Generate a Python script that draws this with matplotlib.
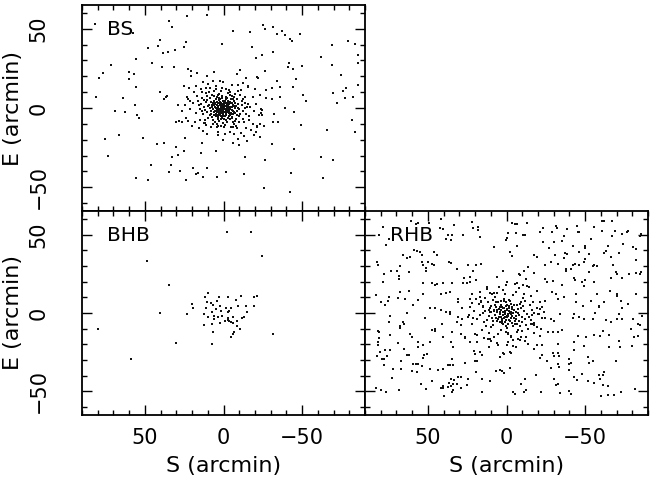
import numpy as np
import matplotlib
matplotlib.use('Agg')
import matplotlib.pyplot as plt
from matplotlib.ticker import MultipleLocator

# star positions in arcmin (S, E) for the three populations
bs_outer = [
    (81.5, 53.2), (34.7, 54.8), (32.6, 51.0), (23.5, 58.0), (10.3, 58.6), (57.5, 47.2), (40.2, 42.6),
    (41.5, 39.4), (48.2, 37.7), (38.7, 34.8), (35.6, 35.2), (31.1, 36.9), (23.9, 41.5), (25.0, 38.4),
    (1.1, 40.5), (55.4, 31.0), (45.7, 28.2), (71.4, 27.2), (38.9, 25.7), (31.3, 25.9), (22.3, 24.7),
    (20.8, 23.2), (17.0, 21.9), (10.3, 20.4), (6.0, 22.5), (20.4, 20.4), (60.3, 23.0), (57.1, 21.5),
    (76.5, 21.9), (79.4, 19.0), (60.3, 18.1), (2.4, 17.3), (55.8, 13.5), (25.4, 13.7), (40.2, 10.3),
    (63.8, 6.3), (81.1, 7.2), (36.6, 6.7), (35.9, 7.5), (37.7, 5.7), (56.6, 2.1), (29.2, 2.1),
    (21.2, 4.6), (22.9, 6.7), (14.4, 12.0), (13.4, 9.9), (11.3, 12.7),
    (-25.2, 52.3), (-26.1, 49.7), (-31.5, 51.0), (-37.2, 48.9), (-38.9, 46.0), (-34.1, 46.4),
    (-48.4, 47.0), (-16.6, 47.7), (-5.8, 48.7), (-42.5, 43.4), (-43.8, 42.4), (-18.2, 38.4),
    (-31.5, 35.6), (-68.9, 39.9), (-79.4, 42.4), (-83.7, 40.3), (-24.6, 33.3), (-20.4, 31.6),
    (-85.3, 33.7), (-85.8, 28.7), (-61.9, 32.0), (-41.5, 28.7), (-69.1, 27.0), (-40.8, 25.7),
    (-44.0, 24.9), (-49.9, 26.8), (-10.4, 24.2), (-26.7, 23.6), (-8.7, 21.3), (-21.0, 19.4),
    (-22.0, 18.8), (-14.2, 19.0), (-34.1, 17.3), (-46.3, 18.5), (-74.8, 20.6), (-85.6, 14.3),
    (-78.0, 12.7), (-76.3, 10.9), (-44.2, 13.5), (-36.2, 13.0), (-30.9, 12.7), (-27.3, 11.4),
    (-15.7, 13.7), (-50.5, 8.4), (-69.9, 9.2), (-82.6, 7.2), (-77.5, 6.5), (-27.0, 6.2),
    (-30.9, 5.8), (-36.2, 6.7), (-52.7, 4.6), (-72.5, 2.9), (-23.9, -0.6), (-39.4, 0.0),
    (68.7, -1.7), (62.5, -2.3), (54.9, -4.2), (53.9, -6.6), (45.7, -1.7), (26.1, -1.7), (30.3, -8.7),
    (28.2, -8.1), (26.1, -8.7), (22.5, -8.0), (11.9, -9.7), (3.9, -12.3), (3.5, -16.9), (75.6, -19.4),
    (66.6, -16.9), (50.9, -19.0), (42.3, -22.8), (38.1, -21.8), (24.6, -19.2), (13.6, -22.2),
    (0.1, -20.3), (29.9, -24.3), (25.0, -27.0), (28.8, -29.6), (14.4, -28.5), (4.9, -27.2),
    (33.0, -31.2), (73.5, -30.6), (33.4, -35.9), (45.9, -35.7), (34.5, -40.3), (27.5, -39.7),
    (19.3, -38.0), (10.6, -37.6), (17.2, -41.8), (16.2, -41.3), (13.2, -43.7), (3.9, -43.5),
    (23.7, -45.2), (55.6, -44.1), (48.2, -45.2),
    (-44.6, -2.3), (-24.2, -1.1), (-24.6, -4.2), (-32.4, -3.8), (-31.3, -8.7), (-34.7, -8.7),
    (-49.2, -10.8), (-82.0, -7.6), (-65.7, -13.7), (-83.7, -15.4), (-21.4, -11.1), (-25.6, -11.5),
    (-23.5, -10.1), (-20.4, -15.4), (-19.3, -16.9), (-23.1, -18.2), (-15.1, -21.1), (-9.8, -23.4),
    (-6.0, -22.4), (-9.2, -19.6), (-31.1, -22.8), (-45.0, -25.9), (-13.4, -31.2), (-26.1, -32.7),
    (-61.9, -31.2), (-69.9, -32.9), (-1.4, -40.1), (-13.0, -41.4), (-42.7, -40.8), (-63.2, -44.3),
    (-25.8, -50.3), (-42.1, -52.8),
]

bs_core = [
    (0.5, -0.8), (1.8, 0.4), (-1.2, 1.1), (-2.6, -0.3), (2.9, -1.7), (-0.4, 2.3), (3.7, 1.2), (-3.5, -2.1),
    (0.9, -3.0), (-1.7, -3.6), (4.6, -0.2), (-4.3, 0.8), (1.4, 3.4), (-2.2, 3.0), (5.2, 2.6), (-5.1, -1.4),
    (2.3, -4.2), (-0.8, -5.0), (6.1, -2.8), (-6.0, 2.2), (0.2, 4.6), (3.1, 4.9), (-3.8, 4.1), (4.8, -3.9),
    (-4.9, -3.8), (7.2, 0.6), (-7.0, -0.2), (1.1, -6.1), (-2.7, -6.3), (5.9, 4.4), (-6.4, 4.7), (3.6, -5.8),
    (-5.6, -5.5), (8.1, -1.6), (-8.2, 1.3), (0.0, 1.0), (1.0, -1.9), (-1.0, -0.6), (2.2, 1.6), (-2.0, 2.0),
    (2.7, -0.9), (-3.0, -1.2), (0.6, 2.8), (-0.9, -2.4), (3.3, 0.1), (-3.9, 0.3), (1.6, -2.9), (-1.5, -4.3),
    (4.1, 2.2), (-4.5, 2.9), (0.3, -3.9), (-0.2, 3.7), (5.4, 0.9), (-5.7, 0.6), (2.0, 5.6), (-1.3, 5.4),
    (3.9, -2.6), (-3.2, -3.0), (6.6, -0.7), (-6.6, -2.6), (1.3, 0.0), (-0.6, 0.2), (0.1, -1.3), (-1.8, -1.7),
    (2.5, 2.7), (-2.9, 1.4), (4.3, -1.1), (-4.0, -0.8), (1.9, -5.1), (-3.6, -5.0), (4.4, 3.6), (-4.1, 3.7),
    (7.5, 2.0), (-7.4, 2.9), (5.0, -5.1), (-5.3, -6.2), (0.8, 6.2), (-2.4, 6.4), (6.8, 3.3), (-6.1, -4.1),
    (3.0, -3.4), (-2.3, -2.6), (1.7, 1.2), (-1.1, 3.0), (0.4, -2.3), (-0.3, -6.8), (2.8, 6.6), (-4.6, 5.8),
    (8.6, 0.2), (-8.8, -1.9), (1.5, -7.2), (-1.9, -7.5), (5.6, -2.2), (-5.9, -1.9), (3.5, 3.0), (-3.3, 2.6),
    (0.7, 0.9), (-0.5, 1.6), (1.2, -0.4), (-1.4, -0.9), (2.4, -2.2), (-2.5, 0.5), (3.8, -4.5), (-4.4, -2.9),
    (6.3, 1.6), (-6.9, 1.0), (0.2, -4.8), (-0.7, 4.4), (4.9, 5.6), (-5.2, 3.4), (7.8, -3.6), (-7.6, -3.2),
    (2.1, 3.9), (-2.8, 4.6), (3.4, -6.7), (-3.9, -7.0), (6.0, -4.6), (-6.3, 5.7), (0.9, 7.4), (-1.6, 7.1),
    (9.2, 1.8), (-9.0, 2.6), (4.0, 6.9), (-4.2, -4.6), (5.3, 3.1), (-5.0, -3.1), (1.9, -1.1), (-2.1, -1.4),
    (0.0, -0.1), (0.8, 1.8),
    (10.3, -2.4), (-10.1, -0.8), (11.2, 3.5), (-11.5, 4.2), (9.6, -6.1), (-9.8, -5.3), (12.4, 0.9),
    (-12.7, -1.6), (7.1, 8.3), (-7.4, 8.6), (2.6, 9.1), (-3.1, 9.4), (5.2, -8.7), (-5.8, -8.9), (0.4, -9.6),
    (13.1, -4.1), (-13.4, 3.1), (8.4, 6.2), (-8.9, 5.9), (10.6, 7.7), (-10.8, 8.1), (14.0, 2.8),
    (-14.3, -3.8), (6.9, -9.9), (-6.6, -10.3), (1.8, 10.8), (-1.2, -10.7), (11.9, -7.4), (-12.1, -6.8),
    (15.2, -0.6), (-15.1, 0.4), (9.0, 10.2), (-9.3, 10.6), (3.7, -11.2), (-3.6, 11.5), (13.8, 6.4),
    (-13.6, 7.0), (4.6, 11.9), (-4.8, -11.8), (12.6, -9.6), (-12.9, -9.1), (8.0, -11.7), (-8.1, -11.4),
    (16.0, 4.5), (-16.2, -5.2), (0.9, 12.6), (-0.6, -12.3), (10.9, -10.8), (-11.2, 11.6), (14.7, -7.8),
    (7.7, 3.9), (-7.9, -6.8), (9.9, 1.2), (-9.5, 0.1), (6.5, -7.3), (-6.8, 6.9), (11.6, -1.3), (-11.9, 1.9),
    (3.3, 8.0), (-4.1, 8.2), (2.9, -8.4), (-2.5, -9.0), (8.8, -4.7), (-8.6, -4.2), (12.2, 5.0), (-12.3, 5.6),
    (5.8, 7.6), (-5.5, 7.8), (10.2, 4.8), (-10.4, -3.7), (7.3, -5.4), (-7.1, -8.0), (13.5, -2.0),
    (-13.8, -0.3), (4.2, -10.1), (-4.4, 10.0), (15.6, 1.6), (-15.8, 2.3), (6.2, 10.9), (-6.0, -11.9),
    (17.3, -2.9), (-17.0, 0.9), (11.0, 9.4), (-10.0, -9.0), (1.4, -11.6), (-1.9, 11.9), (8.5, 12.6),
    (-8.4, -12.8), (16.8, 7.8), (-16.5, -7.4),
    (19.2, 3.1), (-19.6, -1.8), (18.4, -8.6), (-18.8, 6.9), (21.0, -0.4), (-20.7, 2.6), (9.7, 15.2),
    (-9.1, 14.6), (3.2, -15.4), (-4.0, -14.9), (14.6, 11.8), (-14.2, -12.6), (22.3, 5.9), (-22.6, -4.7),
    (20.1, -11.5), (-19.9, 12.1), (12.8, -14.7), (-12.4, 15.9), (0.6, 16.4), (-0.8, -16.7), (17.5, 14.0),
    (-17.2, -14.1), (23.8, -6.2), (-23.5, 8.4), (6.7, 16.9), (-6.9, -16.2), (19.0, 9.9), (-18.6, -10.3),
    (24.6, 1.9), (-24.1, -2.9), (15.9, -12.9), (-15.3, 13.2), (10.8, -16.6), (-11.1, -15.8), (21.7, 12.7),
    (-21.2, -12.0), (5.0, 13.8), (-5.6, 14.2), (13.2, 16.5), (-13.0, -17.4),
]

bhb = [
    (-2.2, 51.5), (-17.4, 51.5), (-24.6, 36.6), (48.6, 33.0), (34.5, 18.0), (10.0, 12.8), (11.7, 10.3),
    (2.8, 10.1), (-2.6, 10.1), (-11.3, 11.1), (-8.1, 8.6), (-19.3, 10.1), (-21.2, 11.1), (10.6, 7.1),
    (7.9, 6.3), (4.3, 7.4), (19.9, 5.7), (19.1, 3.5), (6.5, 4.8), (2.4, 4.4), (10.9, 3.3), (4.9, 2.3),
    (-1.8, 3.5), (-4.6, 3.5), (-9.4, 4.4), (-14.4, 4.4), (-19.1, 4.2), (1.6, 1.3), (-3.7, 1.3),
    (7.1, 0.6), (-2.6, 0.4), (-15.1, 0.8), (23.1, -0.9), (12.5, -0.8), (10.0, -2.3), (40.2, -0.3),
    (6.0, -1.9), (3.5, -2.3), (1.0, -1.6), (-3.0, -3.2), (-6.0, -2.7), (-13.2, -2.7), (-11.9, -3.4),
    (6.0, -4.1), (-0.8, -5.3), (-2.6, -4.6), (-3.4, -4.8), (-5.0, -5.9), (-5.9, -6.3), (2.4, -6.3),
    (-8.5, -4.8), (7.5, -7.2), (12.3, -7.8), (-8.3, -8.2), (-10.3, -10.1), (6.8, -12.2), (-6.5, -12.2),
    (-5.9, -13.5), (-5.0, -15.1), (-31.5, -13.5), (80.0, -10.1), (30.3, -19.2), (7.5, -19.8),
    (58.7, -29.6),
]

rhb_outer = [
    (60.8, 58.9), (57.5, 56.5), (56.0, 57.2), (49.2, 57.2), (41.6, 59.7), (33.4, 56.1), (22.2, 58.0),
    (78.8, 55.1), (42.3, 54.2), (40.2, 53.8), (21.2, 54.4), (18.0, 54.7), (18.0, 53.0), (80.9, 49.6),
    (75.0, 47.1), (76.5, 43.5), (37.0, 49.8), (34.9, 49.6), (27.9, 49.6), (17.0, 48.6), (38.5, 47.1),
    (35.5, 46.7), (8.1, 42.3), (-0.3, 48.1), (65.9, 37.0), (61.3, 35.5), (63.0, 34.9), (58.7, 40.4),
    (57.1, 39.3), (54.9, 38.7), (53.9, 37.2), (46.1, 39.1), (44.4, 37.0), (53.9, 32.4), (52.8, 30.3),
    (51.1, 28.6), (51.1, 26.7), (49.7, 32.8), (47.5, 31.3), (46.1, 30.3), (36.4, 32.4), (35.5, 32.0),
    (82.4, 32.8), (81.9, 30.3), (67.6, 29.9), (73.3, 26.5), (69.7, 26.5), (77.7, 24.8), (68.6, 23.5),
    (68.6, 21.9), (62.3, 26.1), (24.3, 30.9), (19.1, 30.3), (16.5, 31.3), (31.7, 28.2), (21.2, 26.5),
    (22.9, 22.9), (27.9, 19.3), (25.0, 19.3), (23.3, 19.8), (27.1, 22.3), (19.1, 20.8), (34.9, 19.3),
    (6.0, 22.9), (2.2, 26.5), (-0.3, 19.8), (78.8, 19.8), (52.8, 19.1), (47.5, 19.1), (45.4, 17.7),
    (44.0, 18.7), (40.2, 19.1), (12.3, 16.4), (10.6, 12.8), (7.9, 13.0), (22.2, 12.4), (41.9, 12.4),
    (38.5, 12.8), (36.0, 13.5), (53.2, 12.2), (61.7, 13.9), (68.0, 13.5), (82.8, 11.4), (75.0, 10.3),
    (75.4, 7.8), (79.8, 7.2), (69.0, 9.7), (64.4, 8.8), (56.0, 8.2), (77.5, 5.1), (59.2, 5.1),
    (30.7, 8.8), (31.1, 6.7), (22.9, 9.2), (22.2, 6.1), (28.6, 3.4), (48.6, 3.4), (45.4, 3.0),
    (41.6, 1.9), (38.5, 0.8), (36.0, 0.4), (63.4, -0.2), (73.9, -1.7), (17.0, 10.3), (16.5, 7.2),
    (14.9, 4.0), (11.1, 1.9), (9.6, 0.8),
    (-3.7, 57.6), (-5.2, 57.0), (-6.7, 56.5), (-13.0, 57.2), (-23.5, 54.4), (-31.6, 55.5), (-32.2, 54.4),
    (-38.3, 53.8), (-44.6, 55.5), (-55.4, 55.1), (-60.7, 58.6), (-62.1, 58.6), (-67.4, 58.6), (-1.0, 50.9),
    (0.5, 46.7), (-5.8, 50.9), (-10.5, 49.6), (-11.5, 49.6), (-21.4, 51.7), (-29.0, 51.7), (-36.8, 48.8),
    (-45.3, 51.7), (-46.3, 51.3), (-53.7, 47.1), (-60.7, 52.3), (-69.1, 52.3), (-67.4, 48.8),
    (-73.7, 50.2), (-76.9, 51.7), (-77.5, 52.3), (-85.4, 50.2), (-84.7, 48.8), (-6.7, 42.9),
    (-23.5, 45.4), (-29.9, 45.4), (-27.3, 41.2), (-35.4, 46.0), (-42.5, 42.9), (-50.1, 42.9),
    (-50.1, 41.2), (-64.3, 42.5), (-74.2, 43.9), (-80.5, 41.8), (-82.6, 40.8), (-2.0, 38.7), (-3.7, 36.6),
    (-17.8, 37.0), (-19.3, 35.5), (-31.1, 37.0), (-37.5, 38.3), (-38.3, 37.6), (-45.9, 39.1),
    (-52.2, 37.6), (-62.1, 38.3), (-63.6, 39.7), (-71.6, 38.3), (-66.4, 35.5), (-50.1, 34.5),
    (-49.5, 32.8), (-36.8, 34.9), (-28.6, 32.4), (-32.6, 31.3), (-24.8, 30.3), (-82.2, 34.0),
    (-42.5, 30.7), (-43.8, 31.3), (-45.9, 30.7), (-54.8, 29.9), (-55.8, 30.3), (-57.3, 29.9),
    (-67.8, 30.7), (-13.6, 29.2), (-37.9, 28.2), (-37.9, 26.5), (-41.0, 28.2), (-10.9, 26.5), (-8.0, 25.0),
    (-8.8, 24.4), (-17.8, 25.7), (-52.2, 26.1), (-69.5, 26.1), (-70.6, 25.0), (-78.0, 25.0), (-82.2, 25.7),
    (-85.4, 26.1), (-84.7, 25.0), (-43.2, 22.3), (-43.8, 20.8), (-24.8, 21.9), (-12.6, 21.4),
    (-55.8, 19.8), (-66.4, 22.3), (-73.3, 22.3), (-25.6, 19.8), (-29.4, 20.2), (-35.4, 18.1), (-48.0, 19.8),
    (-50.1, 20.8), (-49.5, 17.2), (-5.2, 18.7), (-13.0, 17.2), (-19.3, 13.9), (-29.0, 13.1), (-31.6, 11.8),
    (-32.6, 8.8), (-36.8, 10.3), (-44.2, 12.4), (-57.3, 12.4), (-65.7, 13.9), (-70.6, 12.4), (-70.2, 10.9),
    (-82.2, 11.8), (-24.2, 7.6), (-16.8, 7.1), (-44.2, 6.7), (-53.7, 7.6), (-62.1, 6.7), (-72.7, 7.6),
    (-48.4, 4.6), (-58.6, 4.0), (-59.0, 4.6), (-22.7, 4.0), (-21.4, 2.5), (-73.7, 3.0), (-77.5, 5.5),
    (-34.1, -0.8), (-43.2, -0.8), (-56.5, -0.2), (-71.6, -0.8), (-16.4, -1.3), (-17.8, -0.2),
    (51.8, -3.4), (36.0, -0.4), (30.7, -2.7), (28.6, -4.0), (24.3, -2.3), (21.2, -3.0), (31.7, -5.7),
    (29.2, -7.8), (41.2, -7.2), (75.0, -5.7), (65.9, -5.7), (65.1, -7.2), (67.6, -8.2), (68.0, -9.7),
    (81.9, -11.4), (81.3, -12.4), (73.9, -14.1), (61.3, -13.5), (60.2, -15.0), (47.5, -11.0),
    (45.4, -10.3), (45.4, -11.4), (34.9, -12.0), (40.2, -15.1), (35.5, -18.7), (29.2, -13.5),
    (26.5, -15.0), (26.5, -16.2), (20.1, -13.5), (18.7, -13.9), (23.3, -18.7), (18.7, -18.7),
    (11.7, -16.6), (10.6, -16.6), (5.4, -20.4), (81.3, -16.2), (81.9, -18.3), (81.5, -20.4), (69.3, -19.1),
    (56.0, -18.3), (53.2, -20.4), (48.6, -18.7), (65.5, -22.9), (56.0, -21.9), (33.8, -21.9),
    (11.1, -21.9), (-0.3, -20.4), (77.1, -23.3), (74.3, -23.5), (80.7, -24.6), (82.4, -27.1),
    (76.0, -27.1), (63.4, -26.7), (61.9, -26.7), (52.4, -26.7), (50.3, -26.1), (52.8, -28.8),
    (20.8, -24.0), (20.1, -26.1), (17.0, -24.6), (15.9, -26.7), (19.9, -30.3), (18.7, -30.3),
    (4.3, -28.2), (2.2, -25.4), (79.2, -29.2), (77.7, -29.2), (34.9, -29.2), (26.5, -31.7), (78.1, -33.4),
    (67.0, -30.3), (59.2, -32.4), (57.7, -32.4), (56.6, -32.4), (53.9, -33.8), (37.0, -33.0),
    (35.9, -33.4), (34.3, -33.4), (72.4, -36.0), (67.2, -36.0), (60.2, -37.0), (57.1, -37.6),
    (48.6, -35.5), (43.3, -36.6), (40.2, -36.0), (19.1, -37.6), (6.8, -37.2), (3.9, -36.6), (2.6, -37.2),
    (72.9, -41.4), (47.5, -43.5), (30.7, -40.8), (29.2, -40.8), (35.5, -42.3), (33.4, -42.9),
    (24.3, -42.3), (15.3, -41.8), (10.6, -43.5), (36.4, -44.4), (34.3, -45.0), (31.3, -45.0),
    (54.5, -45.0), (25.4, -46.0), (40.2, -46.5), (41.9, -48.1), (40.2, -48.1), (37.0, -47.1),
    (35.5, -46.5), (29.2, -47.7), (33.8, -49.2), (34.9, -50.2), (51.1, -48.6), (82.8, -47.7),
    (79.8, -48.8), (76.9, -50.2), (68.6, -49.2), (15.9, -50.2), (39.7, -53.0),
    (-20.0, -0.9), (-24.8, -3.0), (-28.4, -4.0), (-30.5, -5.1), (-42.1, -3.0), (-45.9, -2.3),
    (-49.5, -4.0), (-55.2, -3.6), (-63.6, -4.4), (-66.4, -5.7), (-70.0, -3.6), (-73.3, -3.6),
    (-80.7, -4.0), (-83.9, -7.2), (-84.7, -7.8), (-86.0, -1.9), (-17.8, -7.8), (-15.7, -7.2),
    (-22.1, -9.9), (-26.3, -12.4), (-29.4, -12.0), (-32.6, -12.4), (-35.4, -10.7), (-21.4, -14.5),
    (-45.3, -14.5), (-50.5, -15.6), (-55.8, -14.1), (-59.6, -14.9), (-61.5, -11.4), (-64.9, -14.1),
    (-79.0, -10.3), (-81.1, -15.6), (-83.9, -14.5), (-71.6, -17.7), (-42.7, -18.7), (-32.6, -19.8),
    (-19.3, -20.4), (-22.7, -20.4), (-13.6, -19.8), (-17.8, -22.9), (-49.5, -21.2), (-65.3, -21.9),
    (-72.3, -21.9), (-80.1, -20.8), (-43.2, -23.3), (-29.4, -25.4), (-32.6, -25.4), (-30.5, -27.1),
    (-33.7, -27.7), (-22.7, -26.7), (-21.4, -28.8), (-25.7, -30.3), (-40.0, -29.2), (-51.6, -28.2),
    (-54.8, -30.3), (-52.2, -31.7), (-69.5, -30.9), (-41.1, -31.7), (-39.6, -32.8), (-32.6, -32.4),
    (-28.4, -35.1), (-33.2, -34.5), (-40.0, -36.6), (-47.8, -38.7), (-62.1, -37.6), (-61.1, -39.7),
    (-58.6, -39.7), (-59.4, -42.3), (-18.9, -39.7), (-42.7, -40.8), (-44.6, -42.9), (-51.6, -43.5),
    (-55.8, -44.4), (-30.5, -42.3), (-32.6, -45.0), (-31.6, -45.6), (-61.1, -46.0), (-64.3, -46.5),
    (-72.7, -50.2), (-81.8, -48.6), (-11.5, -42.3), (-9.4, -45.0), (-12.1, -49.2), (-10.9, -50.2),
    (-4.1, -50.2), (-5.2, -51.3), (-22.1, -50.2), (-34.1, -50.7), (-40.0, -49.8), (-41.1, -51.7),
    (-60.0, -52.8), (-64.3, -52.0), (-68.5, -52.0), (-2.0, -35.1), (1.8, -38.0), (0.5, -12.4),
    (-1.0, -13.5), (-3.1, -15.6), (-7.3, -16.6), (-8.3, -17.0), (-4.1, -20.8), (-2.0, -24.6),
    (-3.1, -25.4), (1.6, -26.1), (-6.2, -21.9), (-11.5, -17.7), (-9.4, -15.0),
]

rhb_core = [
    (0.7, 0.3), (2.1, -1.2), (-1.4, 1.5), (-2.9, -0.6), (3.6, 1.9), (-0.3, -2.7), (1.5, 3.1), (-3.8, 2.8),
    (4.9, -2.3), (-4.6, -2.9), (0.1, 4.4), (2.8, -4.0), (-1.9, -4.6), (5.8, 0.5), (-5.9, 0.9), (6.4, 3.7),
    (-6.2, -3.6), (3.2, 5.3), (-2.6, 5.7), (1.0, -5.9), (7.3, -1.4), (-7.1, 2.4), (4.4, -5.6), (-4.9, 5.0),
    (8.2, 1.3), (-8.0, -1.1), (0.4, 6.8), (-0.9, -7.0), (6.0, -5.2), (-6.7, 5.4), (2.3, 0.8), (-0.8, -0.9),
    (1.2, -2.3), (-2.2, 0.1), (3.9, -0.7), (-3.3, -1.9), (0.0, 2.1), (2.5, 2.9), (-1.6, 3.3), (4.7, 2.6),
    (-4.1, 0.2), (1.8, -3.5), (-2.7, -3.2), (5.4, -3.6), (-5.5, -4.8), (3.0, -6.6), (-3.4, -6.2),
    (7.0, 4.9), (-7.6, 0.1), (9.1, -3.0), (-9.3, 3.3), (1.6, 7.5), (-2.0, 7.8), (5.1, 6.8), (-5.3, -6.9),
    (8.6, -5.4), (-8.4, 6.0), (0.6, -8.1), (10.2, 0.4), (-10.0, -2.4), (2.9, 4.0), (-1.1, -1.7),
    (1.1, 1.3), (-0.4, 2.6), (3.4, -2.8), (-2.4, -5.2), (4.2, 4.1), (-3.7, 3.9), (6.8, -3.4), (-6.3, -1.7),
    (7.8, 2.1), (-7.7, -4.9), (0.3, -4.2), (-0.6, 5.1), (9.6, 4.5), (-9.8, -5.6), (3.7, 7.9), (-4.2, -8.4),
    (11.0, -1.9), (-11.2, 1.5), (2.0, -7.2), (-1.3, 8.4), (5.9, 2.0), (-5.0, 2.1), (4.0, 0.6), (-3.0, 0.7),
    (0.9, -0.4), (-0.1, -1.8), (2.6, -5.1), (-1.8, 4.7), (6.5, 7.1), (-6.9, -7.3), (8.9, -7.4), (-9.0, 7.2),
    (10.6, 3.0), (-10.5, 4.6), (1.4, 9.0), (-0.5, -9.3), (12.1, -4.6), (-12.0, -3.8),
    (13.4, 1.0), (-13.2, -0.7), (11.5, 6.9), (-11.8, 7.4), (12.8, -8.2), (-12.5, -7.9), (7.4, 10.3),
    (-7.2, -10.6), (3.5, -11.0), (-3.9, 11.3), (15.1, 4.2), (-15.4, -4.5), (14.6, -5.9), (-14.8, 5.3),
    (9.4, 11.8), (-9.7, -11.5), (0.8, 12.4), (-1.0, -12.7), (16.7, -1.3), (-16.5, 1.8), (5.5, -13.1),
    (-5.9, 13.5), (13.9, 9.6), (-13.6, -9.9), (17.8, 6.0), (-17.6, -6.4), (11.3, -12.6), (-11.0, 12.3),
    (18.9, -4.0), (-19.1, 3.4), (2.4, 14.8), (-2.8, -14.5), (15.7, -10.7), (-15.9, 10.9), (7.9, -15.3),
    (-8.2, 15.7), (20.4, 1.1), (-20.6, -0.8), (19.7, 9.1), (-19.3, -8.8), (4.6, 16.6), (-4.4, -16.9),
    (12.2, 15.0), (-12.6, -15.2), (21.8, -7.1), (-21.5, 6.8), (17.1, 13.2), (-17.4, -12.9), (0.2, 18.1),
    (-0.7, -18.4), (22.9, 3.9), (-22.7, -3.2), (9.9, -17.8), (-10.3, 17.6), (14.3, -16.1), (-14.0, 16.3),
    (6.3, -19.0), (-6.6, 19.3), (23.6, -1.5), (-23.9, 0.5), (8.8, 8.0), (-8.6, -8.1), (10.1, -9.0),
    (-10.4, 9.3), (14.9, 0.0), (-14.1, -2.6), (6.1, 12.7), (-6.4, -12.2), (16.3, 7.7), (-16.1, -7.0),
]

bs = np.array(bs_outer + bs_core)
rhb = np.array(rhb_outer + rhb_core)
bhb_pts = np.array(bhb)

plt.rcParams['font.family'] = 'DejaVu Sans'
plt.rcParams['font.size'] = 15

fig = plt.figure(figsize=(6.61, 4.95), dpi=100)
W, H = 661.0, 495.0
x0, x1, x2 = 82, 365, 648
ytop, ymid, ybot = 5, 211, 415

ax_bs = fig.add_axes([x0 / W, 1 - ymid / H, (x1 - x0) / W, (ymid - ytop) / H])
ax_bhb = fig.add_axes([x0 / W, 1 - ybot / H, (x1 - x0) / W, (ybot - ymid) / H])
ax_rhb = fig.add_axes([x1 / W, 1 - ybot / H, (x2 - x1) / W, (ybot - ymid) / H])

panels = [(ax_bs, bs, 'BS'), (ax_bhb, bhb_pts, 'BHB'), (ax_rhb, rhb, 'RHB')]

for ax, pts, name in panels:
    ax.plot(pts[:, 0], pts[:, 1], 's', color='#111111', markersize=1.5, markeredgewidth=0)
    ax.set_xlim(90, -90)
    ax.set_ylim(-65, 65)
    ax.xaxis.set_major_locator(MultipleLocator(50))
    ax.xaxis.set_minor_locator(MultipleLocator(10))
    ax.yaxis.set_major_locator(MultipleLocator(50))
    ax.yaxis.set_minor_locator(MultipleLocator(10))
    ax.tick_params(which='both', direction='in', top=True, right=True, width=1.0)
    ax.tick_params(which='major', length=7.5)
    ax.tick_params(which='minor', length=3.8)
    ax.tick_params(axis='x', pad=9)
    ax.tick_params(axis='y', pad=24)
    for sp in ax.spines.values():
        sp.set_linewidth(1.3)
    ax.text(0.088, 0.88, name, transform=ax.transAxes, ha='left', va='center', fontsize=14.5)

for lab in ax_bs.get_yticklabels() + ax_bhb.get_yticklabels():
    lab.set_rotation(90)
    lab.set_va('center')

ax_bs.tick_params(labelbottom=False)
ax_rhb.tick_params(labelleft=False)

ax_bs.set_ylabel('E (arcmin)', labelpad=4, fontsize=16)
ax_bhb.set_ylabel('E (arcmin)', labelpad=4, fontsize=16)
ax_bhb.set_xlabel('S (arcmin)', labelpad=6, fontsize=16)
ax_rhb.set_xlabel('S (arcmin)', labelpad=6, fontsize=16)

fig.savefig('out.png', dpi=100)
